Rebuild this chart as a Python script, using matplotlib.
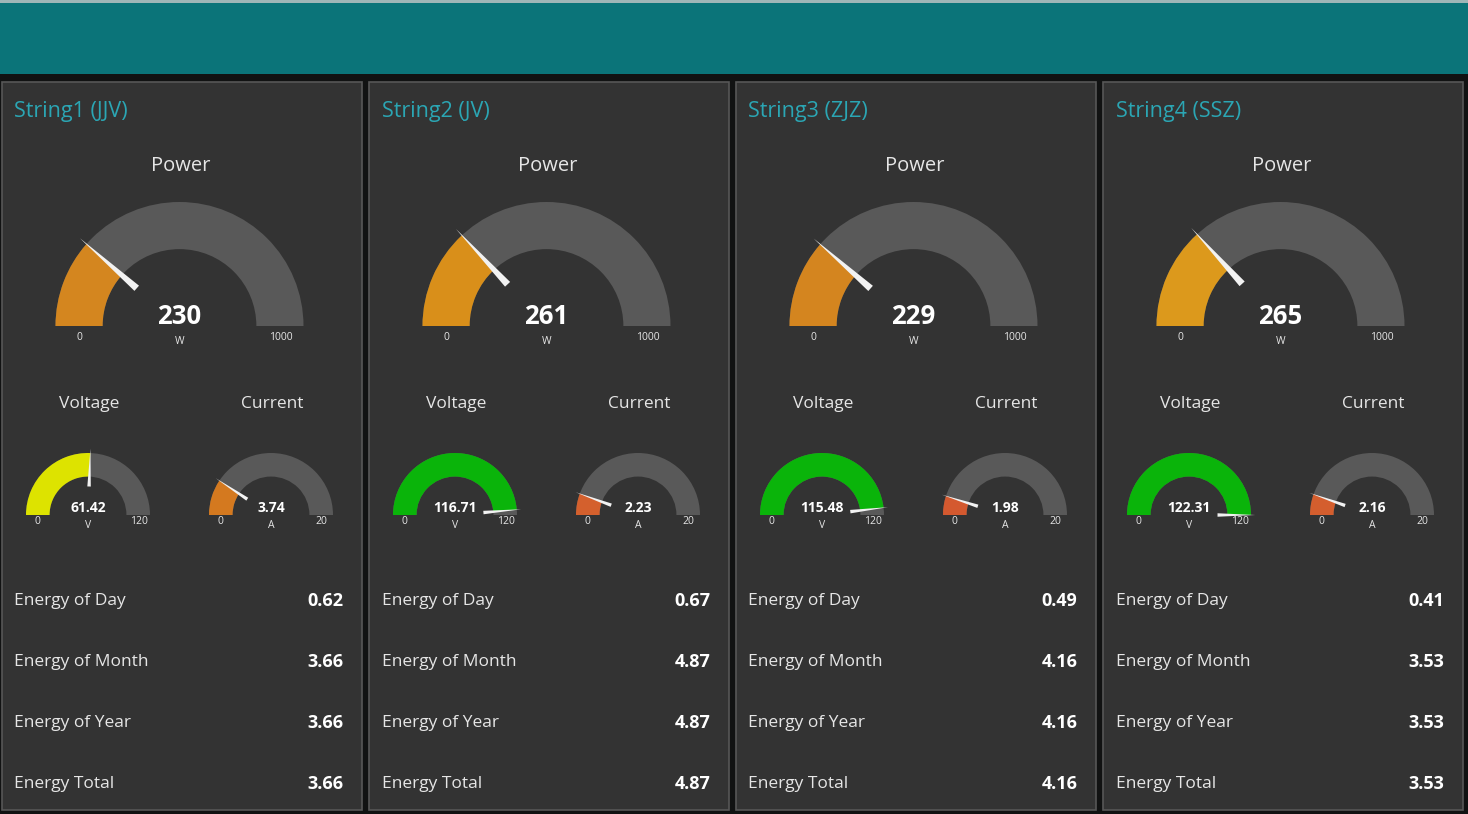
import numpy as np
import matplotlib
matplotlib.use("Agg")
import matplotlib.pyplot as plt
from matplotlib.patches import Wedge, Rectangle, Polygon

# ── Data ─────────────────────────────────────────────────────────────────────
titles = ["String1 (JJV)", "String2 (JV)", "String3 (ZJZ)", "String4 (SSZ)"]
power = [230, 261, 229, 265]
voltage = [61.42, 116.71, 115.48, 122.31]
current = [3.74, 2.23, 1.98, 2.16]
energy_labels = ["Energy of Day", "Energy of Month", "Energy of Year", "Energy Total"]
energy_day = [0.62, 0.67, 0.49, 0.41]
energy_month = [3.66, 4.87, 4.16, 3.53]
energy_year = [3.66, 4.87, 4.16, 3.53]
energy_total = [3.66, 4.87, 4.16, 3.53]
power_max, voltage_max, current_max = 1000, 120, 20

# fill colours as shown by the dashboard
power_colors = ["#d4861f", "#d98f1a", "#d4851f", "#dc991c"]
voltage_colors = ["#dde300", "#0ab40a", "#0ab40a", "#0ab40a"]
current_colors = ["#d4791f", "#d4602d", "#d4592f", "#d45e2e"]

FONT = ["Open Sans", "DejaVu Sans"]
BG = "#111212"
PANEL = "#333333"
TRACK = "#595959"
TEXT = "#e6e6e6"


def gauge(ax, cx, cy, r, value, vmax, color, label, unit, lo, hi,
          vsize, ssize, dv, dl, du):
    frac = min(max(value / vmax, 0), 1)
    r_in = r * 0.62
    # y axis points down, so the upper half is 180..360 degrees
    ax.add_patch(Wedge((cx, cy), r, 180, 360, width=r - r_in, facecolor=TRACK,
                       edgecolor="none"))
    if frac > 0:
        ax.add_patch(Wedge((cx, cy), r, 180, 180 + frac * 180, width=r - r_in,
                           facecolor=color, edgecolor="none"))
    ang = np.radians(180 + frac * 180)
    ux, uy = np.cos(ang), np.sin(ang)
    px, py = -uy, ux
    tip = (cx + ux * r * 1.07, cy + uy * r * 1.07)
    w = r * 0.028
    b = r * 0.46
    ax.add_patch(Polygon([tip,
                          (cx + ux * b + px * w, cy + uy * b + py * w),
                          (cx + ux * b - px * w, cy + uy * b - py * w)],
                         closed=True, facecolor="#f2f2f2", edgecolor="none"))
    ax.text(cx, cy + dv, label, ha="center", va="center", color="white",
            fontsize=vsize, fontweight="bold", family=FONT)
    ax.text(cx, cy + du, unit, ha="center", va="center", color=TEXT,
            fontsize=ssize, family=FONT)
    ax.text(cx - r * 0.81, cy + dl, lo, ha="center", va="center",
            color=TEXT, fontsize=ssize, family=FONT)
    ax.text(cx + r * 0.82, cy + dl, hi, ha="center", va="center",
            color=TEXT, fontsize=ssize, family=FONT)


fig = plt.figure(figsize=(14.68, 8.14), dpi=100, facecolor=BG)
ax = fig.add_axes([0, 0, 1, 1])
ax.set_xlim(0, 1468)
ax.set_ylim(814, 0)
ax.axis("off")

# header bar
ax.add_patch(Rectangle((0, 0), 1468, 2.5, facecolor="#9fb6b7", edgecolor="none"))
ax.add_patch(Rectangle((0, 2.5), 1468, 71, facecolor="#0b7479", edgecolor="none"))

for i in range(4):
    x0 = 1.5 + i * 367
    ax.add_patch(Rectangle((x0, 81.5), 360, 728, facecolor=PANEL,
                           edgecolor="#575757", linewidth=1.2))
    ax.text(x0 + 13, 111, titles[i], ha="left", va="center", color="#2ba6b4",
            fontsize=15.5, family=FONT)

    ax.text(x0 + 179, 166, "Power", ha="center", va="center", color=TEXT,
            fontsize=14.5, family=FONT)
    gauge(ax, x0 + 178, 326, 124, power[i], power_max, power_colors[i],
          f"{power[i]}", "W", "0", "1000", 18.5, 7.5, -10, 12, 15)

    ax.text(x0 + 88, 404, "Voltage", ha="center", va="center", color=TEXT,
            fontsize=12.5, family=FONT)
    ax.text(x0 + 271, 404, "Current", ha="center", va="center", color=TEXT,
            fontsize=12.5, family=FONT)
    gauge(ax, x0 + 86.5, 515, 62, voltage[i], voltage_max, voltage_colors[i],
          f"{voltage[i]:.2f}", "V", "0", "120", 10, 7.5, -7, 7, 10)
    gauge(ax, x0 + 269.5, 515, 62, current[i], current_max, current_colors[i],
          f"{current[i]:.2f}", "A", "0", "20", 10, 7.5, -7, 7, 10)

    vals = [energy_day[i], energy_month[i], energy_year[i], energy_total[i]]
    for j, (lab, v) in enumerate(zip(energy_labels, vals)):
        y = 601 + j * 61
        ax.text(x0 + 13, y, lab, ha="left", va="center", color=TEXT,
                fontsize=12.5, family=FONT)
        ax.text(x0 + 342, y, f"{v:.2f}", ha="right", va="center", color="white",
                fontsize=13, fontweight="bold", family=FONT)

fig.savefig("out.png", dpi=100, facecolor=BG)
